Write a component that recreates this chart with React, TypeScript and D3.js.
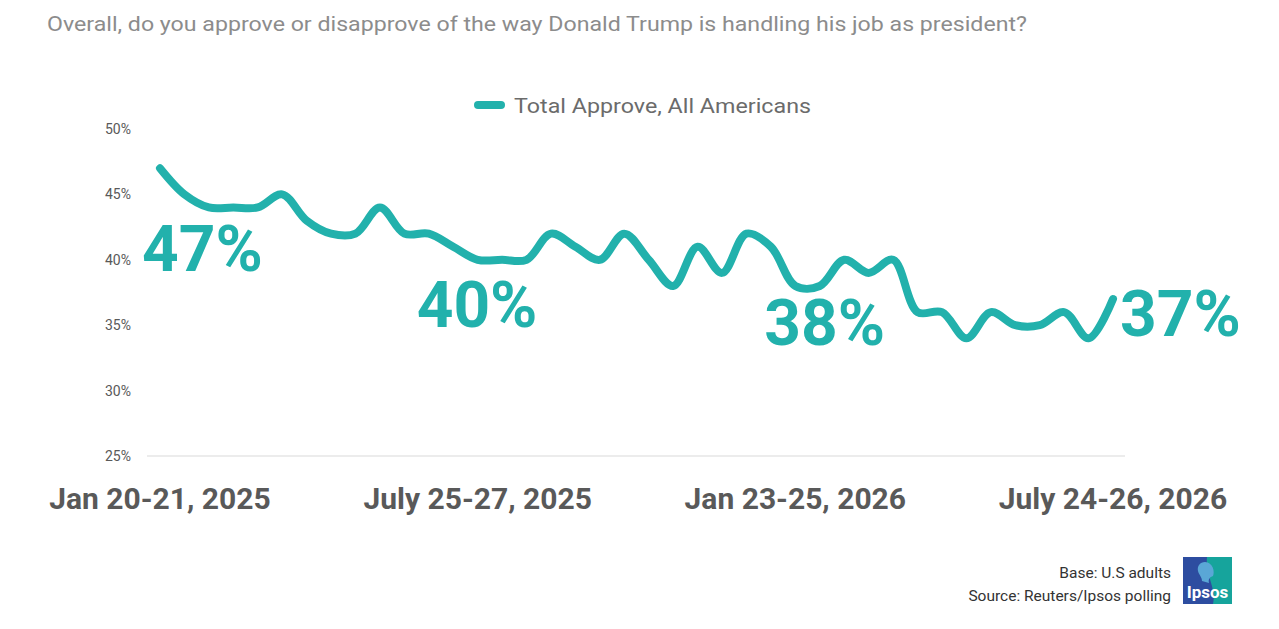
import React, { useEffect, useRef } from 'react';
import * as d3 from 'd3';

// Reuters/Ipsos total approve, one value per poll wave
const approve = [
  47, 45, 44, 44, 44, 45, 43, 42, 42, 44,
  42, 42, 41, 40, 40, 40, 42, 41, 40, 42,
  40, 38, 41, 39, 42, 41, 38, 38, 40, 39,
  40, 36, 36, 34, 36, 35, 35, 36, 34, 37,
];

const tickIndex = [0, 13, 26, 39];
const tickLabels = ['Jan 20-21, 2025', 'July 25-27, 2025', 'Jan 23-25, 2026', 'July 24-26, 2026'];
const yTicks = [25, 30, 35, 40, 45, 50];

// waves that get a big callout, with label offsets
const callouts = [
  { i: 0, dx: -18, dy: 103 },
  { i: 13, dx: -61, dy: 67 },
  { i: 26, dx: -31, dy: 59 },
  { i: 39, dx: 7, dy: 37 },
];

const TEAL = '#22b1ac';
const WIDTH = 1279;
const HEIGHT = 629;

const App: React.FC = () => {
  const svgRef = useRef<SVGSVGElement>(null);

  useEffect(() => {
    if (!svgRef.current) return;
    const svg = d3.select(svgRef.current);
    svg.selectAll('*').remove();

    const x = d3.scalePoint<number>()
      .domain(approve.map((_, i) => i))
      .range([160, 1113]);

    const y = d3.scaleLinear()
      .domain([25, 50])
      .range([456, 129]);

    // title
    svg.append('text')
      .attr('x', 47)
      .attr('y', 31)
      .attr('fill', '#8c8c8c')
      .style('font-family', 'Roboto, sans-serif')
      .style('font-size', '20px')
      .attr('textLength', 980)
      .attr('lengthAdjust', 'spacingAndGlyphs')
      .text('Overall, do you approve or disapprove of the way Donald Trump is handling his job as president?');

    // legend
    svg.append('line')
      .attr('x1', 478).attr('x2', 501)
      .attr('y1', 105).attr('y2', 105)
      .attr('stroke', TEAL)
      .attr('stroke-width', 8)
      .attr('stroke-linecap', 'round');
    svg.append('text')
      .attr('x', 514)
      .attr('y', 113)
      .attr('fill', '#6b6b6b')
      .style('font-family', 'Roboto, sans-serif')
      .style('font-size', '21px')
      .attr('textLength', 297)
      .attr('lengthAdjust', 'spacingAndGlyphs')
      .text('Total Approve, All Americans');

    // y axis labels
    svg.append('g')
      .selectAll('text')
      .data(yTicks)
      .enter().append('text')
      .attr('x', 131)
      .attr('y', d => y(d) + 5)
      .attr('text-anchor', 'end')
      .attr('fill', '#595959')
      .style('font-family', 'Roboto, sans-serif')
      .style('font-size', '14px')
      .text(d => `${d}%`);

    // baseline
    svg.append('line')
      .attr('x1', 147).attr('x2', 1125)
      .attr('y1', y(25)).attr('y2', y(25))
      .attr('stroke', '#d9d9d9')
      .attr('stroke-width', 1);

    // x labels
    svg.append('g')
      .selectAll('text')
      .data(tickIndex)
      .enter().append('text')
      .attr('x', d => x(d)!)
      .attr('y', 509)
      .attr('text-anchor', 'middle')
      .attr('fill', '#595959')
      .style('font-family', 'Roboto, sans-serif')
      .style('font-size', '30px')
      .style('font-weight', '700')
      .text((_, k) => tickLabels[k]);

    // approval line
    const line = d3.line<number>()
      .x((_, i) => x(i)!)
      .y(d => y(d))
      .curve(d3.curveCatmullRom.alpha(0.5));

    svg.append('path')
      .datum(approve)
      .attr('d', line)
      .attr('fill', 'none')
      .attr('stroke', TEAL)
      .attr('stroke-width', 8)
      .attr('stroke-linecap', 'round')
      .attr('stroke-linejoin', 'round');

    // callout values
    svg.append('g')
      .selectAll('text')
      .data(callouts)
      .enter().append('text')
      .attr('x', d => x(d.i)! + d.dx)
      .attr('y', d => y(approve[d.i]) + d.dy)
      .attr('fill', TEAL)
      .style('font-family', 'Roboto, sans-serif')
      .style('font-size', '64px')
      .style('font-weight', '700')
      .text(d => `${approve[d.i]}%`);

    // footer
    const foot = svg.append('g')
      .attr('fill', '#333')
      .style('font-family', 'Roboto, sans-serif')
      .style('font-size', '15.5px')
      .attr('text-anchor', 'end');
    foot.append('text').attr('x', 1171).attr('y', 578).text('Base: U.S adults');
    foot.append('text').attr('x', 1171).attr('y', 601).text('Source: Reuters/Ipsos polling');

    // Ipsos logo
    const logo = svg.append('g').attr('transform', 'translate(1183,557)');
    logo.append('rect').attr('width', 49).attr('height', 47).attr('fill', '#2d4da0');
    logo.append('path')
      .attr('d', 'M24,0 L49,0 L49,47 L30,47 C34,32 22,18 24,0 Z')
      .attr('fill', '#16a49c');
    logo.append('path')
      .attr('d', 'M22,5 C17,5 14,9 15,14 C16,18 19,20 19,24 L26,26 C25,22 27,20 30,19 C32,15 30,5 22,5 Z')
      .attr('fill', '#5aa7d6');
    logo.append('text')
      .attr('x', 24.5)
      .attr('y', 41)
      .attr('text-anchor', 'middle')
      .attr('fill', '#fff')
      .style('font-family', 'Roboto, sans-serif')
      .style('font-size', '17px')
      .style('font-weight', '700')
      .text('Ipsos');
  }, []);

  return (
    <svg
      ref={svgRef}
      width={WIDTH}
      height={HEIGHT}
      style={{ position: 'absolute', left: 0, top: 0, background: '#fff' }}
    />
  );
};

export default App;
